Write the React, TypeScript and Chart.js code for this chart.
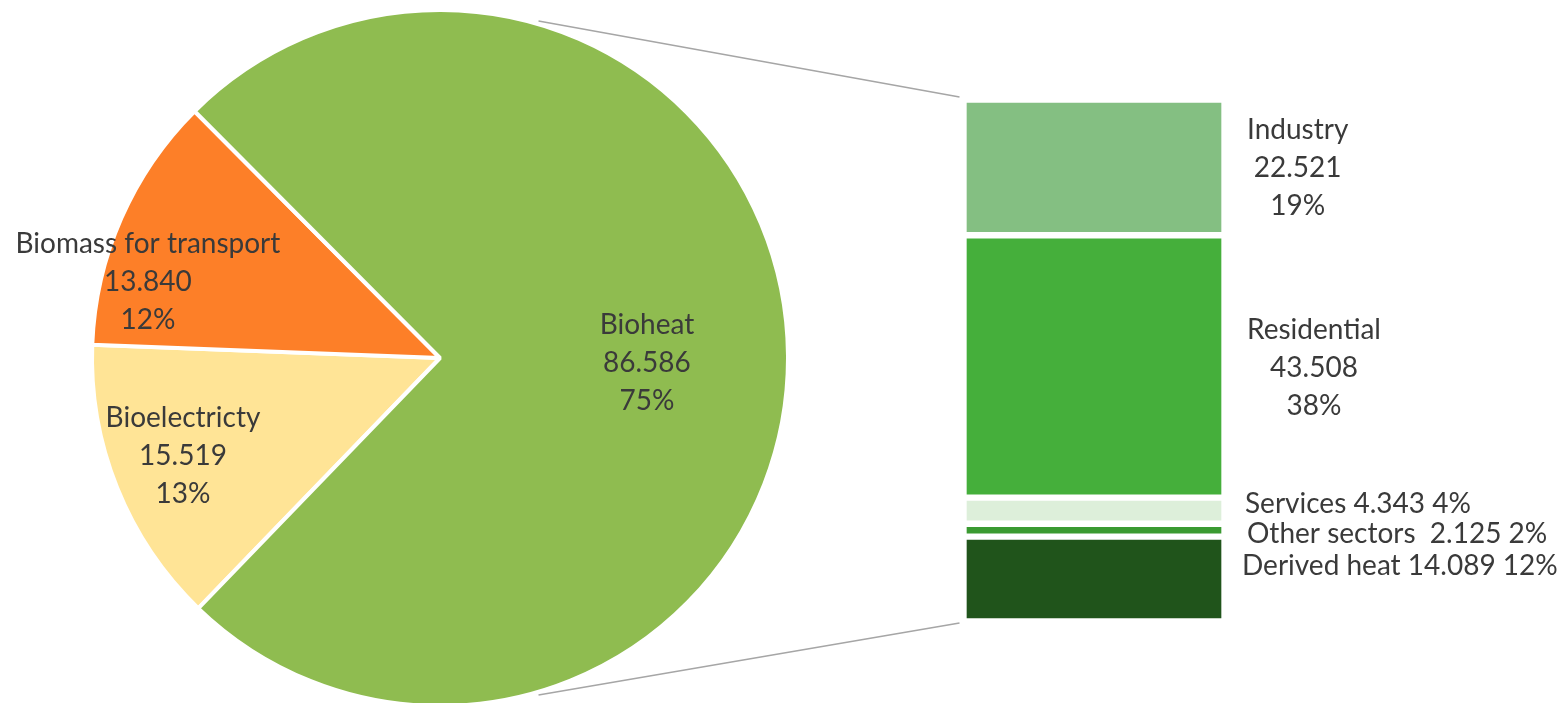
import React, { useEffect, useRef } from "react";
import { Chart, registerables } from "chart.js";

Chart.register(...registerables);

// ---- data ----
const pieLabels = ["Bioelectricty", "Biomass for transport", "Bioheat"];
const pieValues = [15.519, 13.84, 86.586];
const pieColors = ["#FFE496", "#FD7F28", "#8FBC50"];

const barLabels = ["Industry", "Residential", "Services", "Other sectors ", "Derived heat"];
const barValues = [22.521, 43.508, 4.343, 2.125, 14.089];
const barColors = ["#84BF82", "#45AF3B", "#DDEFDA", "#3A9A31", "#20541B"];
const barLabelMultiline = [true, true, false, false, false];

// ---- style ----
const W = 1558;
const H = 703;
const FONT = "28px Lato";
const TEXT = "#3A3A3A";
const LINE_H = 38;
// pie label anchors: absolute canvas angle (deg) and fraction of outer radius
const pieLabelPos = [
  { a: 157.4, r: 0.8 },
  { a: 192.9, r: 0.861 },
  { a: 3.9, r: 0.596 },
];
// bar label: gap from bar right edge, baseline offset of middle line from segment centre
const barLabelDx = [26, 26, 24, 26, 21];
const barLabelDy = [10, 11, 2, 12.5, -4];
const BAR_BORDER = 3.5;

const total = pieValues.reduce((a, b) => a + b, 0);
const pct = (v: number) => Math.round((v / total) * 100) + "%";
const fmt = (v: number) => v.toFixed(3);

export default function App() {
  const pieRef = useRef<HTMLCanvasElement>(null);
  const barRef = useRef<HTMLCanvasElement>(null);

  useEffect(() => {
    if (!pieRef.current || !barRef.current) return;

    const pieLabelPlugin = {
      id: "pieLabels",
      afterDatasetsDraw(chart: any) {
        const ctx = chart.ctx;
        const meta = chart.getDatasetMeta(0);
        const arc: any = meta.data[0];
        const cx = arc.x;
        const cy = arc.y;
        const R = arc.outerRadius;
        ctx.save();
        ctx.font = FONT;
        ctx.fillStyle = TEXT;
        ctx.textAlign = "center";
        ctx.textBaseline = "alphabetic";
        pieLabels.forEach((name, i) => {
          const p = pieLabelPos[i];
          const ang = (p.a * Math.PI) / 180;
          const x = cx + Math.cos(ang) * R * p.r;
          const y = cy + Math.sin(ang) * R * p.r;
          const lines = [name, fmt(pieValues[i]), pct(pieValues[i])];
          lines.forEach((t, k) => ctx.fillText(t, x, y + (k - 1) * LINE_H));
        });
        ctx.restore();
      },
    };

    const pie = new Chart(pieRef.current, {
      type: "pie",
      data: {
        labels: pieLabels,
        datasets: [
          {
            data: pieValues,
            backgroundColor: pieColors,
            borderColor: "#FFFFFF",
            borderWidth: 4,
            clip: false as any,
          } as any,
        ],
      },
      options: {
        responsive: false,
        animation: false,
        rotation: 224,
        radius: 348,
        layout: { padding: { left: 0, right: W - 880, top: 13, bottom: 0 } },
        plugins: { legend: { display: false }, tooltip: { enabled: false } },
      } as any,
      plugins: [pieLabelPlugin],
    });

    const barPlugin = {
      id: "barDecor",
      afterDraw(chart: any) {
        const ctx = chart.ctx;
        ctx.save();
        // connectors
        const arc: any = pie.getDatasetMeta(0).data[0];
        const rects = chart.data.datasets.map((_: any, i: number) => chart.getDatasetMeta(i).data[0]);
        const first: any = rects[0];
        const last: any = rects[rects.length - 1];
        const barLeft = first.x - first.width / 2;
        const barTop = Math.min(first.y, first.base);
        const barBottom = Math.max(last.y, last.base);
        const r0 = arc.outerRadius + 3;
        const aTop = (-73.7 * Math.PI) / 180;
        const aBot = (73.7 * Math.PI) / 180;
        ctx.strokeStyle = "#A6A6A6";
        ctx.lineWidth = 1.5;
        ctx.beginPath();
        ctx.moveTo(arc.x + Math.cos(aTop) * r0, arc.y + Math.sin(aTop) * r0);
        ctx.lineTo(barLeft - 4, barTop - 2.5);
        ctx.moveTo(arc.x + Math.cos(aBot) * r0, arc.y + Math.sin(aBot) * r0);
        ctx.lineTo(barLeft - 4, barBottom + 1.5);
        ctx.stroke();

        // labels
        ctx.font = FONT;
        ctx.fillStyle = TEXT;
        ctx.textBaseline = "alphabetic";
        rects.forEach((el: any, i: number) => {
          const right = el.x + el.width / 2 - BAR_BORDER;
          const midY = (el.y + el.base) / 2;
          const left = right + barLabelDx[i];
          const baseY = midY + barLabelDy[i];
          if (barLabelMultiline[i]) {
            const lines = [barLabels[i], fmt(barValues[i]), pct(barValues[i])];
            const maxW = Math.max(...lines.map((t) => ctx.measureText(t).width));
            ctx.textAlign = "center";
            lines.forEach((t, k) => ctx.fillText(t, left + maxW / 2, baseY + (k - 1) * LINE_H));
          } else {
            ctx.textAlign = "left";
            ctx.fillText(`${barLabels[i]} ${fmt(barValues[i])} ${pct(barValues[i])}`, left, baseY);
          }
        });
        ctx.restore();
      },
    };

    const barTotal = barValues.reduce((a, b) => a + b, 0);
    const bar = new Chart(barRef.current, {
      type: "bar",
      data: {
        labels: [""],
        datasets: barLabels.map((name, i) => ({
          label: name,
          data: [barValues[i]],
          backgroundColor: barColors[i],
          borderColor: "#FFFFFF",
          borderWidth: BAR_BORDER,
          borderSkipped: false,
          barPercentage: 1,
          categoryPercentage: 1,
        })),
      },
      options: {
        responsive: false,
        animation: false,
        layout: { padding: { left: 963.5, right: W - 1224.5, top: 99.5, bottom: H - 621.5 } },
        scales: {
          x: { stacked: true, display: false },
          y: { stacked: true, display: false, reverse: true, min: 0, max: barTotal },
        },
        plugins: { legend: { display: false }, tooltip: { enabled: false } },
      } as any,
      plugins: [barPlugin],
    });

    return () => {
      bar.destroy();
      pie.destroy();
    };
  }, []);

  return (
    <div style={{ position: "absolute", left: 0, top: 0, width: W, height: H, background: "#FFFFFF" }}>
      <canvas ref={pieRef} width={W} height={H} style={{ position: "absolute", left: 0, top: 0 }} />
      <canvas ref={barRef} width={W} height={H} style={{ position: "absolute", left: 0, top: 0 }} />
    </div>
  );
}
